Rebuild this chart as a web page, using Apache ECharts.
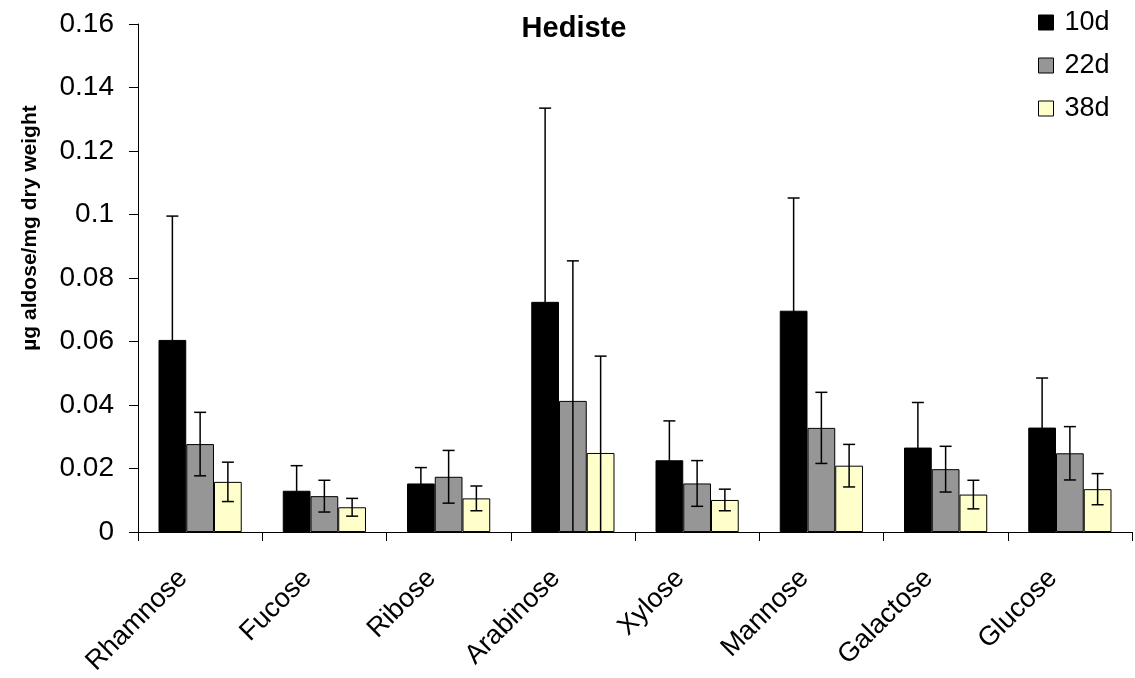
<!DOCTYPE html>
<html>
<head>
<meta charset="utf-8">
<script src="https://cdn.jsdelivr.net/npm/echarts@6/dist/echarts.min.js"></script>
<style>
html,body{margin:0;padding:0;background:#fff;}
#chart{width:1135px;height:678px;}
</style>
</head>
<body>
<div id="chart"></div>
<script>
const categories = ['Rhamnose','Fucose','Ribose','Arabinose','Xylose','Mannose','Galactose','Glucose'];
const seriesNames = ['10d','22d','38d'];
const values10d = [0.0605,0.0130,0.0153,0.0725,0.0226,0.0697,0.0266,0.0329];
const values22d = [0.0277,0.0113,0.0174,0.0413,0.0153,0.0328,0.0198,0.0248];
const values38d = [0.0158,0.0078,0.0106,0.0249,0.0101,0.0209,0.0118,0.0135];
const errors10d = [0.0390,0.0079,0.0050,0.0610,0.0124,0.0355,0.0142,0.0156];
const errors22d = [0.0100,0.0050,0.0083,0.0441,0.0072,0.0112,0.0072,0.0084];
const errors38d = [0.0062,0.0028,0.0039,0.0305,0.0034,0.0067,0.0045,0.0049];
const yTicks = {min:0, max:0.16, interval:0.02};

const colors = ['#000000','#969696','#FFFFCC'];
const values = [values10d, values22d, values38d];
const errors = [errors10d, errors22d, errors38d];
const GAP = 0.33;
const FONT = "'Liberation Sans', Arial, Helvetica, sans-serif";

const chart = echarts.init(document.getElementById('chart'), null, {renderer:'canvas'});

function makeRender(si) {
  return function (params, api) {
    const idx = api.value(0), v = api.value(1), e = api.value(2);
    const c = api.coord([idx, v]);
    const catW = api.size([1, 0])[0];
    const groupW = catW * (1 - GAP);
    const barW = groupW / 3;
    const x = c[0] - groupW / 2 + barW * (si + 0.5);
    const hi = api.coord([idx, v + e])[1];
    const lowVal = v - e;
    const lo = api.coord([idx, Math.max(0, lowVal)])[1];
    const cap = 6;
    const st = {stroke:'#000', lineWidth:1.5};
    const children = [
      {type:'line', shape:{x1:x, y1:hi, x2:x, y2:lo}, style:st},
      {type:'line', shape:{x1:x-cap, y1:hi, x2:x+cap, y2:hi}, style:st}
    ];
    if (lowVal > 0) children.push({type:'line', shape:{x1:x-cap, y1:lo, x2:x+cap, y2:lo}, style:st});
    return {type:'group', children};
  };
}

const series = [];
seriesNames.forEach((name, i) => {
  series.push({
    name, type:'bar', data: values[i],
    barGap:'0%', barCategoryGap:(GAP*100)+'%',
    itemStyle:{color:colors[i], borderColor:'#000', borderWidth:1},
    emphasis:{disabled:true}, z:2
  });
});
seriesNames.forEach((name, i) => {
  series.push({
    name: name + ' err', type:'custom',
    data: categories.map((c, k) => [k, values[i][k], errors[i][k]]),
    encode:{x:0, y:1},
    renderItem: makeRender(i), z:5, silent:true
  });
});

chart.setOption({
  animation:false,
  backgroundColor:'#fff',
  title:{text:'Hediste', left:574, top:14, padding:0, textAlign:'center',
    textStyle:{fontFamily:FONT, fontSize:29, fontWeight:'bold', color:'#000'}},
  legend:{
    data:seriesNames, orient:'vertical', left:1038, top:9, padding:0,
    itemWidth:15, itemHeight:15, itemGap:16, icon:'rect',
    itemStyle:{borderColor:'#000', borderWidth:1},
    textStyle:{fontFamily:FONT, fontSize:27, color:'#000', lineHeight:27, padding:[0,0,0,6]}
  },
  grid:{left:138, right:3, top:24, bottom:144, containLabel:false},
  xAxis:{
    type:'category', data:categories,
    axisLine:{lineStyle:{color:'#000', width:1}},
    axisTick:{show:true, length:9, lineStyle:{color:'#000'}},
    axisLabel:{rotate:45, margin:25, padding:[0,24,0,0], fontFamily:FONT, fontSize:27, color:'#000', interval:0}
  },
  yAxis:{
    type:'value', min:yTicks.min, max:yTicks.max, interval:yTicks.interval,
    axisLine:{show:true, lineStyle:{color:'#000', width:1}},
    axisTick:{show:true, length:9, lineStyle:{color:'#000'}},
    splitLine:{show:false},
    axisLabel:{margin:24, fontFamily:FONT, fontSize:28, color:'#000'}
  },
  graphic:[{
    type:'text', x:30, y:228, rotation:Math.PI/2,
    style:{text:'µg aldose/mg dry weight', fontFamily:FONT, fontSize:21, fontWeight:'bold',
      fill:'#000', textAlign:'center', textVerticalAlign:'middle'}
  }],
  series
});
</script>
</body>
</html>
